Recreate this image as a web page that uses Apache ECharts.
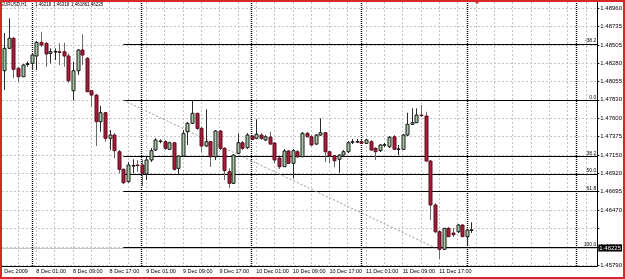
<!DOCTYPE html>
<html><head><meta charset="utf-8">
<script src="https://cdn.jsdelivr.net/npm/echarts@6/dist/echarts.min.js"></script>
<style>html,body{margin:0;padding:0;background:#fff}#c{width:625px;height:279px}</style>
</head><body><div id="c"></div>
<script>
// Hourly EURUSD bars, first bar = 7 Dec 2009 18:00
const opens = [1.48189,1.48466,1.48590,1.48219,1.48115,1.48266,1.48281,1.48371,1.48540,1.48528,
1.48404,1.48420,1.48424,1.48424,1.48371,1.47942,1.48189,1.48445,1.48343,1.47942,
1.47889,1.47560,1.47671,1.47355,1.47395,1.47189,1.46972,1.46819,1.47013,1.47025,
1.47025,1.46914,1.47087,1.47210,1.47318,1.47313,1.47219,1.47300,1.46984,1.47136,
1.47436,1.47540,1.47663,1.47478,1.47260,1.47313,1.47127,1.47445,1.47231,1.46942,
1.46799,1.47169,1.47300,1.47239,1.47383,1.47355,1.47395,1.47334,1.47371,1.47297,
1.47111,1.47004,1.47198,1.47046,1.47189,1.47127,1.47416,1.47374,1.47284,1.47395,
1.47424,1.47189,1.47140,1.47095,1.47148,1.47189,1.47309,1.47313,1.47313,1.47293,
1.47313,1.47231,1.47202,1.47272,1.47251,1.47374,1.47219,1.47219,1.47395,1.47528,
1.47547,1.47642,1.47630,1.47074,1.46531,1.46201,1.45984,1.46243,1.46185,1.46201,
1.46284,1.46140,1.46218];
const highs = [1.48655,1.48837,1.48606,1.48235,1.48272,1.48301,1.48408,1.48556,1.48671,1.48544,
1.48466,1.48466,1.48528,1.48535,1.48404,1.48301,1.48457,1.48639,1.48359,1.47951,
1.47902,1.47754,1.47679,1.47457,1.47420,1.47210,1.46984,1.47062,1.47095,1.47087,
1.47087,1.47127,1.47235,1.47355,1.47342,1.47334,1.47313,1.47309,1.47148,1.47457,
1.47556,1.47819,1.47671,1.47498,1.47713,1.47321,1.47457,1.47457,1.47247,1.46984,
1.47161,1.47416,1.47321,1.47420,1.47395,1.47589,1.47420,1.47395,1.47436,1.47309,
1.47124,1.47222,1.47210,1.47222,1.47210,1.47432,1.47432,1.47395,1.47408,1.47602,
1.47432,1.47198,1.47148,1.47161,1.47210,1.47321,1.47346,1.47346,1.47334,1.47346,
1.47334,1.47247,1.47284,1.47297,1.47383,1.47395,1.47272,1.47408,1.47671,1.47725,
1.47725,1.47766,1.47683,1.47087,1.46556,1.46222,1.46247,1.46259,1.46247,1.46296,
1.46296,1.46235,1.46318];
const lows = [1.47951,1.48457,1.48096,1.48054,1.48112,1.48239,1.48198,1.48198,1.48482,1.48239,
1.48281,1.48322,1.48260,1.48239,1.48038,1.47819,1.48136,1.48260,1.47926,1.47745,
1.47260,1.47436,1.47313,1.47210,1.47108,1.46922,1.46790,1.46806,1.46922,1.46939,
1.46766,1.46840,1.47062,1.47198,1.47293,1.47210,1.47210,1.46955,1.46901,1.47124,
1.47272,1.47531,1.47457,1.47177,1.47247,1.47000,1.47087,1.47210,1.46840,1.46741,
1.46790,1.47161,1.47210,1.47222,1.47334,1.47346,1.47334,1.47321,1.47272,1.47050,
1.46976,1.47000,1.47037,1.46861,1.47111,1.47124,1.47365,1.47260,1.47272,1.47383,
1.47062,1.47053,1.46997,1.46930,1.47124,1.47173,1.47284,1.47297,1.47284,1.47284,
1.47198,1.47087,1.47185,1.47247,1.47235,1.47210,1.47148,1.47210,1.47383,1.47519,
1.47544,1.47618,1.47068,1.46346,1.46185,1.45864,1.45975,1.46136,1.46136,1.46185,
1.46136,1.46037,1.46186];
const closes = [1.48466,1.48590,1.48207,1.48115,1.48260,1.48278,1.48383,1.48540,1.48507,1.48396,
1.48424,1.48427,1.48422,1.48371,1.48066,1.48189,1.48445,1.48383,1.47930,1.47889,
1.47560,1.47671,1.47355,1.47395,1.47202,1.46972,1.46806,1.47025,1.47019,1.47019,
1.46922,1.47087,1.47202,1.47334,1.47321,1.47231,1.47300,1.46972,1.47136,1.47416,
1.47540,1.47663,1.47478,1.47260,1.47313,1.47127,1.47445,1.47231,1.46955,1.46799,
1.47148,1.47300,1.47231,1.47395,1.47342,1.47404,1.47355,1.47374,1.47284,1.47087,
1.47004,1.47198,1.47046,1.47202,1.47127,1.47416,1.47374,1.47272,1.47395,1.47424,
1.47189,1.47140,1.47078,1.47148,1.47189,1.47300,1.47313,1.47315,1.47293,1.47334,
1.47210,1.47189,1.47272,1.47276,1.47367,1.47219,1.47224,1.47395,1.47528,1.47547,
1.47642,1.47639,1.47074,1.46531,1.46201,1.45984,1.46243,1.46140,1.46164,1.46284,
1.46140,1.46222,1.46225];

const headerTexts = ["EURUSD,H1", "1.46218", "1.46318", "1.46186", "1.46225"];
const bidPrice = 1.46225;

const yTickValues = [1.45790,1.46015,1.46245,1.46470,1.46695,1.46920,1.47150,1.47375,1.47600,1.47830,1.48055,1.48280,1.48505,1.48735,1.48960];
const yLabelValues = yTickValues.filter(v => v !== 1.46245); // covered by bid box

const xTickPos = [0,7,15,23,31,39,47,55,63,71,79,87,95];
const xTickLabels = ["Dec 2009","8 Dec 01:00","8 Dec 09:00","8 Dec 17:00","9 Dec 01:00","9 Dec 09:00","9 Dec 17:00","10 Dec 01:00","10 Dec 09:00","10 Dec 17:00","11 Dec 01:00","11 Dec 09:00","11 Dec 17:00"];
const separatorPos = [6,30,54,78,101,125];
const slotCount = 130;

const fibLabels = ["-38.2","0.0","38.2","50.0","61.8","100.0"];
const fibPrices = [1.48520,1.47825,1.47130,1.46915,1.46700,1.46005];
const fibStart = 26;
const fibTrend = [[26,1.47825],[94,1.46005]];

const xGridPos = [];
for (let k = 3; k < slotCount; k += 4) xGridPos.push(k);

const FONT = 'Liberation Sans';
const candleData = opens.map((o,i)=>[i,o,closes[i],lows[i],highs[i]]);

const chart = echarts.init(document.getElementById('c'), null, {renderer:'canvas'});
chart.setOption({
  animation:false,
  backgroundColor:'#fff',
  grid:{left:2,right:27,top:2,bottom:13,containLabel:false},
  xAxis:{
    type:'value', min:-0.5, max:slotCount-0.5,
    axisLine:{show:true,onZero:false,lineStyle:{color:'#000',width:1}},
    axisTick:{show:false,customValues:xGridPos},
    axisLabel:{customValues:xTickPos, formatter:v=>xTickLabels[xTickPos.indexOf(v)],
      align:'left', fontSize:5.5, margin:2, color:'#000', fontFamily:FONT},
    splitLine:{show:true,lineStyle:{color:'#c4c4c4',type:[2,2],width:1}}
  },
  yAxis:{
    type:'value', position:'right', min:1.45778, max:1.49038, scale:true,
    axisLine:{show:true,onZero:false,lineStyle:{color:'#000',width:1}},
    axisTick:{show:true,length:2,customValues:yTickValues,lineStyle:{color:'#000'}},
    axisLabel:{customValues:yLabelValues, formatter:v=>v.toFixed(5), fontSize:6, margin:3, color:'#000', fontFamily:FONT},
    splitLine:{show:true,lineStyle:{color:'#c4c4c4',type:[2,2],width:1}}
  },
  series:[
    {
      type:'line', data:[], z:2, silent:true,
      markLine:{
        silent:true, symbol:['none','none'], animation:false,
        data:[
          ...separatorPos.map(k=>({xAxis:k, lineStyle:{color:'#000',type:[1,1],width:1.4}, label:{show:false}})),
          ...fibPrices.map((p,i)=>[
            {coord:[fibStart,p], lineStyle:{color:'#000',type:'solid',width:1},
             label:{show:true,position:'insideEndTop',formatter:fibLabels[i],fontSize:5,color:'#000',distance:[1,0.5],fontFamily:FONT}},
            {coord:[slotCount-0.5,p]}
          ]),
          [{coord:fibTrend[0], lineStyle:{color:'#9a9a9a',type:[2,2],width:1}, label:{show:false}},{coord:fibTrend[1]}],
          {yAxis:bidPrice, lineStyle:{color:'#c8c8c8',type:'solid',width:1},
           label:{show:true,position:'end',distance:1,formatter:bidPrice.toFixed(5),backgroundColor:'#000',color:'#fff',fontSize:6,padding:[1,1,0,1],fontFamily:FONT}}
        ]
      }
    },
    {
      type:'custom', z:5, silent:true, clip:true,
      data:candleData,
      encode:{x:0,y:[1,2,3,4]},
      renderItem:function(params,api){
        const x=api.value(0), o=api.value(1), c=api.value(2), l=api.value(3), h=api.value(4);
        const pO=api.coord([x,o]), pC=api.coord([x,c]), pL=api.coord([x,l]), pH=api.coord([x,h]);
        const cx=Math.round(pO[0]);
        const bull=c>=o;
        const top=Math.min(pO[1],pC[1]), bot=Math.max(pO[1],pC[1]);
        return {type:'group',children:[
          {type:'line',shape:{x1:cx+0.5,y1:pH[1],x2:cx+0.5,y2:pL[1]},
           style:{stroke:bull?'#2a2a2a':'#6a6a6a',lineWidth:1}},
          {type:'rect',shape:{x:cx-1,y:top,width:3,height:Math.max(bot-top,0.6)},
           style:{fill:bull?'#a2c8a2':'#a31d3b',stroke:bull?'#1a1a1a':'#5e0e1e',lineWidth:1}}
        ]};
      }
    }
  ],
  graphic:[
    ...headerTexts.map((t,i)=>({type:'text', left:[1,35,53,71,87][i], top:2, z:10,
      style:{text:t, fontSize:4.5, fill:'#000', fontFamily:FONT}})),
    {type:'polygon', z:20, shape:{points:[[474,1],[480,1],[477,4]]}, style:{fill:'#d8262a'}},
    {type:'rect', z:30, shape:{x:1,y:1,width:623,height:277}, style:{fill:'none',stroke:'#d8262a',lineWidth:2}}
  ]
});
</script></body></html>
